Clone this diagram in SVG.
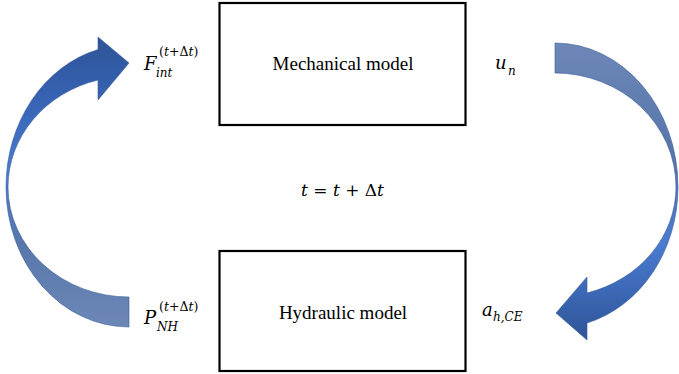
<svg xmlns="http://www.w3.org/2000/svg" width="679" height="374" viewBox="0 0 679 374">
<style>
.box{fill:#fff;stroke:#000;stroke-width:2.2}
.lbl{font-family:"Liberation Serif","Times New Roman",serif;font-size:19px;fill:#000;text-anchor:middle}
.m{font-family:"DejaVu Serif","Liberation Serif",serif;font-style:italic;fill:#000}
.mr{font-family:"DejaVu Serif","Liberation Serif",serif;font-style:normal;fill:#000}
.arr{stroke:#3b5d98;stroke-width:0.6}
</style>
<defs>
<linearGradient id="gl" gradientUnits="userSpaceOnUse" x1="0" y1="37" x2="0" y2="327">
<stop offset="0" stop-color="#2d5496"/>
<stop offset="0.2" stop-color="#3662b2"/>
<stop offset="0.47" stop-color="#4a7bd2"/>
<stop offset="0.72" stop-color="#5877ab"/>
<stop offset="1" stop-color="#6d88b7"/>
</linearGradient>
<linearGradient id="gr" gradientUnits="userSpaceOnUse" x1="0" y1="43" x2="0" y2="340">
<stop offset="0" stop-color="#6d88b7"/>
<stop offset="0.4" stop-color="#5574aa"/>
<stop offset="0.68" stop-color="#4a7bd2"/>
<stop offset="1" stop-color="#2d5496"/>
</linearGradient>
</defs>
<g id="connectors">
<path id="arrow-left" class="arr" fill="url(#gl)" d="M129 327 A123 140 0 0 1 6 187 A123 142 0 0 1 98 49.6 L98 37 L129 63 L98 100 L98 80 A121 110.7 0 0 0 8 187 A121 110 0 0 0 129 297 Z"/>
<path id="arrow-right" class="arr" fill="url(#gr)" d="M555 43 A123 144 0 0 1 678 187 A123 141 0 0 1 587 323 L587 340 L556 313 L587 277 L587 293 A121 110 0 0 0 676 187 A121 114 0 0 0 555 73 Z"/>
</g>
<g id="node-mechanical">
<rect class="box" x="219.5" y="3" width="246" height="122"/>
<text class="lbl" x="343" y="70">Mechanical model</text>
</g>
<g id="node-hydraulic">
<rect class="box" x="219.5" y="251" width="246" height="120"/>
<text class="lbl" x="343" y="319">Hydraulic model</text>
</g>
<g id="label-F">
<text class="m" x="144" y="70" font-size="18">F</text>
<text class="mr" x="159" y="56" font-size="12.5">(<tspan class="m">t</tspan>+Δ<tspan class="m">t</tspan>)</text>
<text class="m" x="156" y="77" font-size="12">int</text>
</g>
<g id="label-P">
<text class="m" x="144" y="324" font-size="18">P</text>
<text class="mr" x="159" y="311" font-size="12.5">(<tspan class="m">t</tspan>+Δ<tspan class="m">t</tspan>)</text>
<text class="m" x="157" y="331" font-size="12">NH</text>
</g>
<g id="label-u">
<text class="m" x="495" y="69" font-size="18">u</text>
<text class="m" x="508" y="75" font-size="12">n</text>
</g>
<g id="label-a">
<text class="m" x="482" y="316" font-size="18">a</text>
<text class="m" x="493" y="321" font-size="12">h,CE</text>
</g>
<g id="label-t">
<text class="m" x="301" y="196" font-size="17">t <tspan class="mr">=</tspan> t <tspan class="mr">+</tspan> <tspan class="mr">Δ</tspan>t</text>
</g>
</svg>
